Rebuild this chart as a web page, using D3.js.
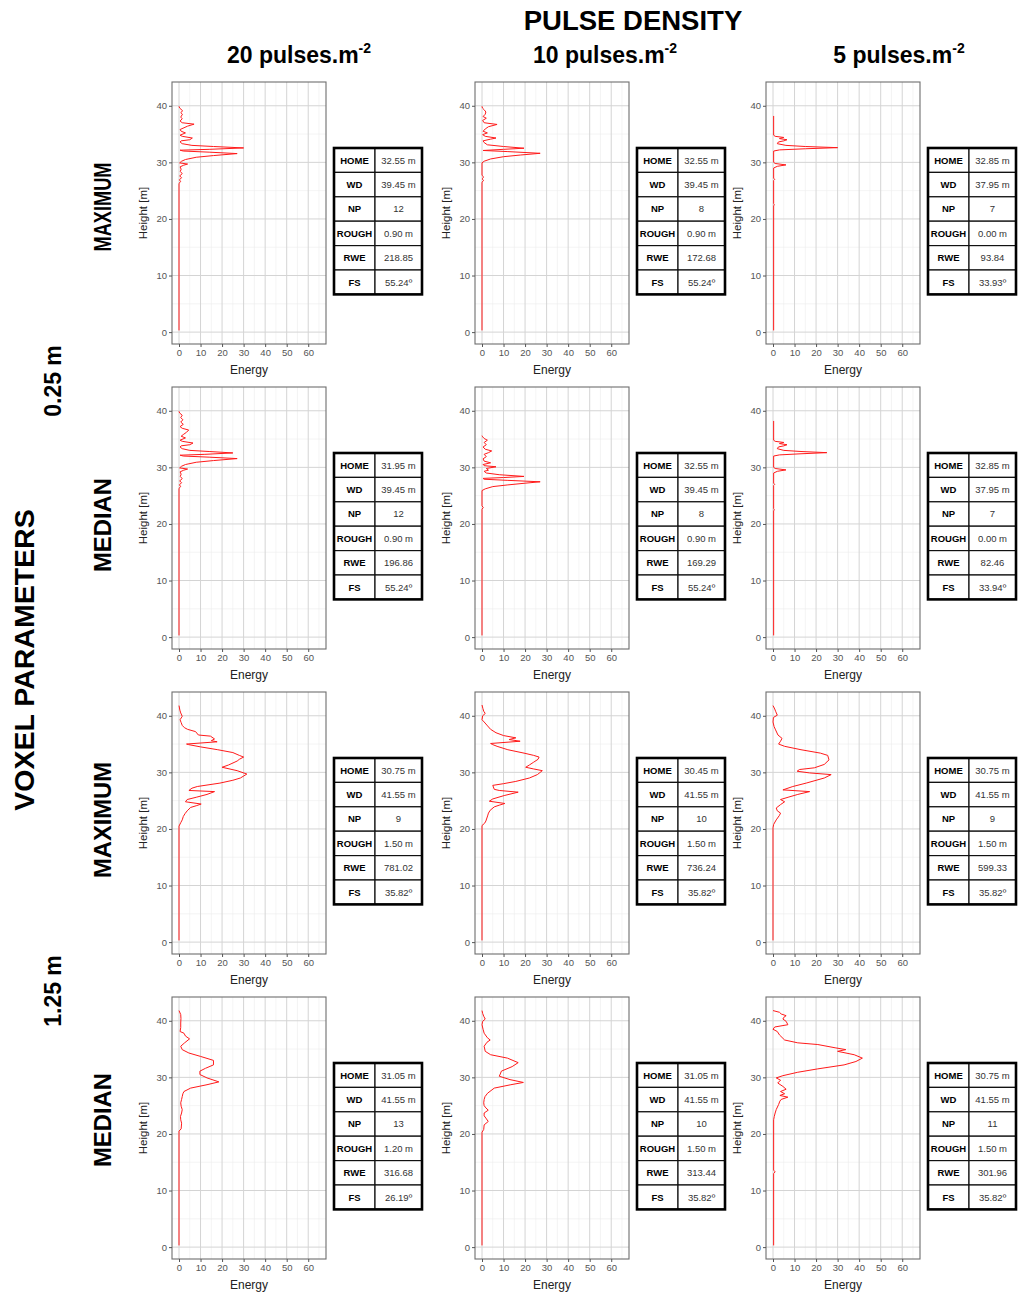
<!DOCTYPE html>
<html>
<head>
<meta charset="utf-8">
<script src="https://cdn.jsdelivr.net/npm/d3@7"></script>
<style>
  html, body { margin: 0; padding: 0; background: #fff; }
  svg { display: block; }
  text { font-family: "Liberation Sans", Arial, sans-serif; }
</style>
</head>
<body>
<svg id="fig" width="1019" height="1293"></svg>
<script>
// ---- labels ----
const densities = ["20", "10", "5"];
const voxelSizes = ["0.25 m", "1.25 m"];
const statistics = ["MAXIMUM", "MEDIAN", "MAXIMUM", "MEDIAN"];
const energyTicks = [0, 10, 20, 30, 40, 50, 60];
const heightTicks = [0, 10, 20, 30, 40];
const tableLabels = ["HOME", "WD", "NP", "ROUGH", "RWE", "FS"];

// ---- waveform metrics, row-major (voxel/statistic rows x pulse density columns) ----
const homeValues  = ["32.55 m", "32.55 m", "32.85 m", "31.95 m", "32.55 m", "32.85 m",
                     "30.75 m", "30.45 m", "30.75 m", "31.05 m", "31.05 m", "30.75 m"];
const wdValues    = ["39.45 m", "39.45 m", "37.95 m", "39.45 m", "39.45 m", "37.95 m",
                     "41.55 m", "41.55 m", "41.55 m", "41.55 m", "41.55 m", "41.55 m"];
const npValues    = ["12", "8", "7", "12", "8", "7", "9", "10", "9", "13", "10", "11"];
const roughValues = ["0.90 m", "0.90 m", "0.00 m", "0.90 m", "0.90 m", "0.00 m",
                     "1.50 m", "1.50 m", "1.50 m", "1.20 m", "1.50 m", "1.50 m"];
const rweValues   = ["218.85", "172.68", "93.84", "196.86", "169.29", "82.46",
                     "781.02", "736.24", "599.33", "316.68", "313.44", "301.96"];
const fsValues    = ["55.24º", "55.24º", "33.93º", "55.24º", "55.24º", "33.94º",
                     "35.82º", "35.82º", "35.82º", "26.19º", "35.82º", "35.82º"];

// ---- waveforms: [height (m), energy] ----
const wave_025_max_20 = [[0.3,0],[26.3,0],[26.6,0.8],[26.9,0.2],[27.3,1.2],[27.6,0.3],[28.0,1.5],[28.4,0.6],[28.8,1.0],[29.2,0.5],[29.5,2.2],[29.7,4],[29.9,0.3],[30.2,1.2],[30.5,3],[30.9,8],[31.2,16],[31.55,27],[31.8,14],[32.0,2],[32.15,0.5],[32.3,14],[32.55,30],[32.8,16],[33.0,6],[33.3,1.5],[33.6,0.5],[33.8,1],[34.0,5],[34.3,6.2],[34.6,1.5],[34.8,0.5],[35.2,3],[35.5,1],[35.8,0.5],[36.4,4],[36.75,7],[37.0,1.5],[37.3,0.5],[37.7,1.5],[38.0,0.8],[38.5,1.6],[38.8,0.8],[39.1,1.7],[39.6,0.3],[39.9,0]];
const wave_025_max_10 = [[0.3,0],[26.5,0],[26.8,0.8],[27.1,0],[27.4,0.8],[27.7,0],[29.9,0],[30.2,1],[30.6,4],[31.0,10],[31.3,18],[31.6,27],[31.9,12],[32.1,0.5],[32.3,10],[32.5,19.5],[32.8,10],[33.1,2.5],[33.5,1],[33.8,0.5],[34.1,4],[34.3,6.5],[34.6,1.5],[34.9,0.3],[35.2,2.5],[35.5,0.5],[35.9,1.5],[36.3,3],[36.7,7],[37.0,1],[37.4,0.3],[37.8,2],[38.1,0.5],[38.5,1.5],[38.9,1.8],[39.3,1],[39.6,0.2],[39.9,0]];
const wave_025_max_5 = [[0.3,0.3],[22.3,0.3],[22.5,0.6],[22.7,0.3],[26.8,0.3],[27.0,0.8],[27.2,0.3],[29.0,0.3],[29.3,2],[29.55,6],[29.8,1],[30.0,0.3],[32.0,0.3],[32.2,3],[32.4,15],[32.6,30],[32.8,15],[33.0,6],[33.3,2],[33.6,2.5],[33.8,5],[34.0,6.5],[34.2,3],[34.4,5],[34.6,1],[34.8,0.3],[38.2,0.3]];
const wave_025_med_20 = [[0.3,0],[26.3,0],[26.6,0.8],[26.9,0.2],[27.3,1.2],[27.6,0.3],[28.0,1.5],[28.4,0.6],[28.8,1.0],[29.2,0.5],[29.5,2.2],[29.7,4],[29.9,0.3],[30.2,1.2],[30.5,3],[30.9,8],[31.2,16],[31.55,27],[31.8,14],[32.0,2],[32.15,0.5],[32.3,12],[32.55,25],[32.8,14],[33.0,5],[33.3,1.5],[33.6,0.5],[33.8,1],[34.0,5],[34.3,6.5],[34.6,1.5],[34.8,0.5],[35.2,3],[35.5,1],[35.8,2],[36.2,3.5],[36.6,4.5],[36.9,1.5],[37.2,0.5],[37.6,2],[38.0,0.8],[38.4,1.8],[38.8,0.8],[39.2,1.5],[39.6,0.3],[39.9,0]];
const wave_025_med_10 = [[0.3,0],[22.6,0],[22.9,0.6],[23.2,0],[25.9,0],[26.2,1.5],[26.6,5],[26.9,12],[27.2,20],[27.45,27],[27.7,12],[27.9,1],[28.05,0.5],[28.2,10],[28.4,19.5],[28.7,8],[29.0,2],[29.3,1],[29.5,3],[29.8,2],[30.1,6.5],[30.3,1],[30.5,0.5],[30.8,4],[31.1,1],[31.5,0.5],[31.9,2],[32.3,1],[32.6,3],[32.9,4.5],[33.2,1.5],[33.6,0.5],[34.0,2],[34.4,1],[34.8,2.5],[35.1,1],[35.4,0.3],[35.6,0]];
const wave_025_med_5 = [[0.3,0.3],[22.3,0.3],[22.5,0.6],[22.7,0.3],[26.8,0.3],[27.0,0.8],[27.2,0.3],[29.0,0.3],[29.3,2],[29.55,6],[29.8,1],[30.0,0.3],[32.0,0.3],[32.2,3],[32.4,13],[32.6,25],[32.8,13],[33.0,5],[33.3,2],[33.6,2.5],[33.8,5],[34.0,6.5],[34.2,3],[34.4,5],[34.6,1],[34.8,0.3],[38.2,0.3]];
const wave_125_max_20 = [[0.3,0],[20.5,0],[21.1,0.8],[21.6,1.5],[22.2,2],[22.7,2.8],[23.2,3.8],[23.8,5.4],[24.1,8],[24.4,10.3],[24.8,3],[25.2,3.8],[25.6,8],[26.1,13],[26.6,16.5],[26.8,4.6],[27.2,6],[27.5,8.5],[28.1,19],[28.6,25],[29.0,28.5],[29.7,31.5],[30.3,27],[30.9,20],[31.3,23],[32.0,27],[32.3,28],[32.7,30],[33.0,28],[33.5,25],[34.0,18],[34.5,10],[34.9,4.5],[35.0,3.5],[35.4,17.7],[35.6,15],[35.9,16.5],[36.4,14.6],[36.6,9],[37.2,7.7],[37.6,4],[37.9,2.5],[38.3,1.5],[38.8,1],[39.3,0.5],[39.9,1.5],[40.5,0.8],[41.0,0.4],[41.8,0]];
const wave_125_max_10 = [[0.3,0],[20.6,0],[21.0,1.2],[21.4,1.8],[22.3,2.6],[22.8,3],[23.3,3.8],[23.9,5.7],[24.2,8],[24.5,10.6],[24.9,3.4],[25.3,5],[25.9,10.3],[26.5,16.8],[26.8,8],[27.0,5.7],[27.7,5],[28.0,10],[28.4,15.7],[29.0,22],[29.6,25.7],[30.3,28],[30.6,24],[30.9,20.3],[31.3,22],[31.8,24],[32.3,26],[32.7,26.5],[33.0,24],[33.4,19.5],[34.0,12],[34.6,7],[34.9,5],[35.1,4],[35.5,17.7],[35.8,12.6],[36.1,15.7],[36.5,10],[37.0,6.5],[37.6,4],[38.2,2.6],[38.9,1],[39.3,0],[40.0,0.3],[40.4,1.5],[40.8,0.8],[41.3,0.4],[41.9,0]];
const wave_125_max_5 = [[0.3,0],[20.2,0],[20.8,0.3],[21.6,1.5],[22.4,3],[22.8,3.5],[23.2,2],[23.7,1.5],[24.3,3.5],[24.8,5.4],[25.2,3.5],[25.6,7],[26.1,11.5],[26.6,17],[26.9,4.6],[27.5,9.2],[28.1,15.4],[29.0,23.8],[29.6,27],[29.9,17],[30.2,11.2],[30.5,12.3],[30.8,19.2],[31.4,23.8],[32.2,26],[33.0,25.4],[33.4,22],[34.0,13],[34.6,5.4],[35.0,2.6],[35.5,3.5],[36.0,4.2],[36.6,2.3],[37.5,1.2],[38.1,0.5],[38.9,0],[39.7,0.2],[40.1,2],[40.8,1.2],[41.2,0.8],[41.8,0]];
const wave_125_med_20 = [[0.3,0],[20.5,0],[20.9,1],[21.4,1.1],[21.9,1.2],[22.5,0.8],[23.1,0.7],[23.7,1.2],[24.3,1.5],[24.9,1],[25.5,0.8],[26.1,1.2],[26.6,1.5],[27.1,1.8],[27.5,2.3],[28.1,5.4],[28.7,13],[29.2,18.5],[29.9,13],[30.5,9.7],[31.1,9.7],[31.6,12.3],[32.2,16],[33.0,16],[33.7,10],[34.3,4.6],[34.9,1.5],[35.5,0.8],[36.1,2.6],[36.8,4.9],[37.3,3],[37.8,2.3],[38.1,0.5],[38.8,0.8],[39.6,0.8],[40.4,0.9],[41.1,0.8],[41.8,0]];
const wave_125_med_10 = [[0.3,0],[20.3,0],[20.8,0.8],[21.6,1],[22.2,2.9],[22.8,1.8],[23.2,1],[23.7,1],[24.2,2.9],[24.6,1.8],[25.0,1],[25.5,0.8],[26.1,1],[26.6,1.4],[27.2,2.6],[28.1,5.7],[28.7,13.4],[29.1,19.2],[29.6,13],[30.2,8],[30.6,8.5],[31.1,9],[31.9,14],[32.6,16.8],[33.4,11.8],[34.0,4],[34.6,1.5],[35.5,1],[36.2,2.3],[36.6,3.8],[37.0,2.5],[37.8,1],[38.5,0.5],[39.3,0],[39.9,0.3],[40.3,1.5],[40.8,0.8],[41.3,0.3],[41.8,0]];
const wave_125_med_5 = [[0.3,0.3],[13.0,0.3],[13.3,1],[13.6,0.3],[22.5,0.3],[23.1,0.6],[23.7,1],[24.3,1.5],[25.2,2.6],[25.8,3.2],[26.1,3.8],[26.5,6.9],[26.8,3.2],[27.1,5.4],[27.5,3.5],[27.9,6.1],[28.4,4.6],[29.0,2.2],[29.5,3.5],[29.9,1.5],[30.3,4.6],[30.9,11.5],[31.5,20.8],[32.2,33],[32.8,38.5],[33.4,41.5],[34.0,37.7],[34.6,30],[34.9,33.8],[35.2,29.2],[35.8,20.8],[36.1,11.5],[36.6,5.4],[37.5,3],[38.1,2],[38.5,0],[38.9,0.8],[39.3,6.9],[39.9,6.1],[40.3,4.6],[40.6,5],[40.9,6.1],[41.2,3.8],[41.5,3],[41.8,0]];

const waveforms = [
  wave_025_max_20, wave_025_max_10, wave_025_max_5,
  wave_025_med_20, wave_025_med_10, wave_025_med_5,
  wave_125_max_20, wave_125_max_10, wave_125_max_5,
  wave_125_med_20, wave_125_med_10, wave_125_med_5
];
const tableColumns = [homeValues, wdValues, npValues, roughValues, rweValues, fsValues];

// ---- layout ----
const panelLefts = [172, 475, 766];
const panelTops = [82, 387, 692, 997];
const panelW = 154, panelH = 262;
const tableDx = 162, tableDy = 66, tableW = 88, tableLabelW = 41, tableRowH = 24.4;
const statCenters = [207, 525, 820, 1120];
const statLengths = [89, 94, 116, 94];

const svg = d3.select("#fig");
svg.append("rect").attr("width", 1019).attr("height", 1293).attr("fill", "#fff");

const x = d3.scaleLinear().domain([-3.25, 68.25]).range([0, panelW]);
const y = d3.scaleLinear().domain([-2.1, 44.2]).range([panelH, 0]);
const minorX = d3.range(5, 70, 10);
const minorY = d3.range(5, 40, 10);

const line = d3.line().x(d => x(d[1])).y(d => y(d[0]));

// ---- headers ----
svg.append("text").attr("x", 633).attr("y", 30).attr("text-anchor", "middle")
  .attr("font-size", 27.5).attr("font-weight", "bold").attr("fill", "#000").text("PULSE DENSITY");

const colCenters = [299, 605, 899];
densities.forEach((dens, i) => {
  const t = svg.append("text").attr("x", colCenters[i]).attr("y", 63).attr("text-anchor", "middle")
    .attr("font-size", 23).attr("font-weight", "bold").attr("fill", "#000");
  t.append("tspan").text(dens + " pulses.m");
  t.append("tspan").attr("font-size", 14).attr("dy", -10).text("-2");
});

svg.append("text").attr("transform", "translate(34,660) rotate(-90)").attr("text-anchor", "middle")
  .attr("font-size", 28.5).attr("font-weight", "bold").attr("fill", "#000").text("VOXEL PARAMETERS");

const voxelCenters = [381, 991];
voxelSizes.forEach((v, i) => {
  svg.append("text").attr("transform", `translate(61,${voxelCenters[i]}) rotate(-90)`)
    .attr("text-anchor", "middle").attr("font-size", 23).attr("font-weight", "bold")
    .attr("fill", "#000").text(v);
});

statistics.forEach((s, r) => {
  svg.append("text").attr("transform", `translate(111,${statCenters[r]}) rotate(-90)`)
    .attr("text-anchor", "middle").attr("font-size", 23.5).attr("font-weight", "bold")
    .attr("textLength", statLengths[r]).attr("lengthAdjust", "spacingAndGlyphs")
    .attr("fill", "#000").text(s);
});

// ---- panels ----
waveforms.forEach((wave, k) => {
  const r = Math.floor(k / 3), c = k % 3;
  const g = svg.append("g").attr("transform", `translate(${panelLefts[c]},${panelTops[r]})`);

  g.append("rect").attr("width", panelW).attr("height", panelH).attr("fill", "#fff");

  // grid
  g.selectAll(".mnx").data(minorX).join("line")
    .attr("x1", d => x(d)).attr("x2", d => x(d)).attr("y1", 0).attr("y2", panelH)
    .attr("stroke", "#ededed").attr("stroke-width", 0.6);
  g.selectAll(".mny").data(minorY).join("line")
    .attr("x1", 0).attr("x2", panelW).attr("y1", d => y(d)).attr("y2", d => y(d))
    .attr("stroke", "#ededed").attr("stroke-width", 0.6);
  g.selectAll(".mjx").data(energyTicks).join("line")
    .attr("x1", d => x(d)).attr("x2", d => x(d)).attr("y1", 0).attr("y2", panelH)
    .attr("stroke", "#d4d4d4").attr("stroke-width", 1);
  g.selectAll(".mjy").data(heightTicks).join("line")
    .attr("x1", 0).attr("x2", panelW).attr("y1", d => y(d)).attr("y2", d => y(d))
    .attr("stroke", "#d4d4d4").attr("stroke-width", 1);

  // waveform
  g.append("path").datum(wave).attr("d", line).attr("fill", "none")
    .attr("stroke", "#ff1a1a").attr("stroke-width", 1).attr("stroke-linejoin", "round");

  g.append("rect").attr("width", panelW).attr("height", panelH).attr("fill", "none")
    .attr("stroke", "#6e6e6e").attr("stroke-width", 1.1);

  // axes
  const xa = g.append("g").attr("transform", `translate(0,${panelH})`)
    .call(d3.axisBottom(x).tickValues(energyTicks).tickSize(3).tickPadding(2));
  const ya = g.append("g").call(d3.axisLeft(y).tickValues(heightTicks).tickSize(3).tickPadding(2));
  [xa, ya].forEach(a => {
    a.select(".domain").remove();
    a.selectAll(".tick line").attr("stroke", "#555");
    a.selectAll(".tick text").attr("fill", "#555").attr("font-size", 9.5)
      .attr("font-family", "'Liberation Sans', Arial, sans-serif");
  });

  g.append("text").attr("x", panelW / 2).attr("y", panelH + 30).attr("text-anchor", "middle")
    .attr("font-size", 12).attr("fill", "#222").text("Energy");
  g.append("text").attr("transform", `translate(-25,${panelH / 2}) rotate(-90)`)
    .attr("text-anchor", "middle").attr("font-size", 11.5).attr("fill", "#222").text("Height [m]");

  // metrics table
  const tg = svg.append("g")
    .attr("transform", `translate(${panelLefts[c] + tableDx},${panelTops[r] + tableDy})`);
  tableLabels.forEach((lab, i) => {
    const ty = i * tableRowH;
    tg.append("rect").attr("x", 0).attr("y", ty).attr("width", tableLabelW).attr("height", tableRowH)
      .attr("fill", "#fff").attr("stroke", "#111").attr("stroke-width", 1.2);
    tg.append("rect").attr("x", tableLabelW).attr("y", ty).attr("width", tableW - tableLabelW)
      .attr("height", tableRowH).attr("fill", "#fff").attr("stroke", "#111").attr("stroke-width", 1.2);
    tg.append("text").attr("x", tableLabelW / 2).attr("y", ty + tableRowH / 2 + 3.3)
      .attr("text-anchor", "middle").attr("font-size", 9.5).attr("font-weight", "bold")
      .attr("fill", "#000").text(lab);
    tg.append("text").attr("x", tableLabelW + (tableW - tableLabelW) / 2).attr("y", ty + tableRowH / 2 + 3.3)
      .attr("text-anchor", "middle").attr("font-size", 9.5).attr("fill", "#333")
      .text(tableColumns[i][k]);
  });
  tg.append("rect").attr("width", tableW).attr("height", tableRowH * tableLabels.length)
    .attr("fill", "none").attr("stroke", "#000").attr("stroke-width", 2.6);
});
</script>
</body>
</html>
